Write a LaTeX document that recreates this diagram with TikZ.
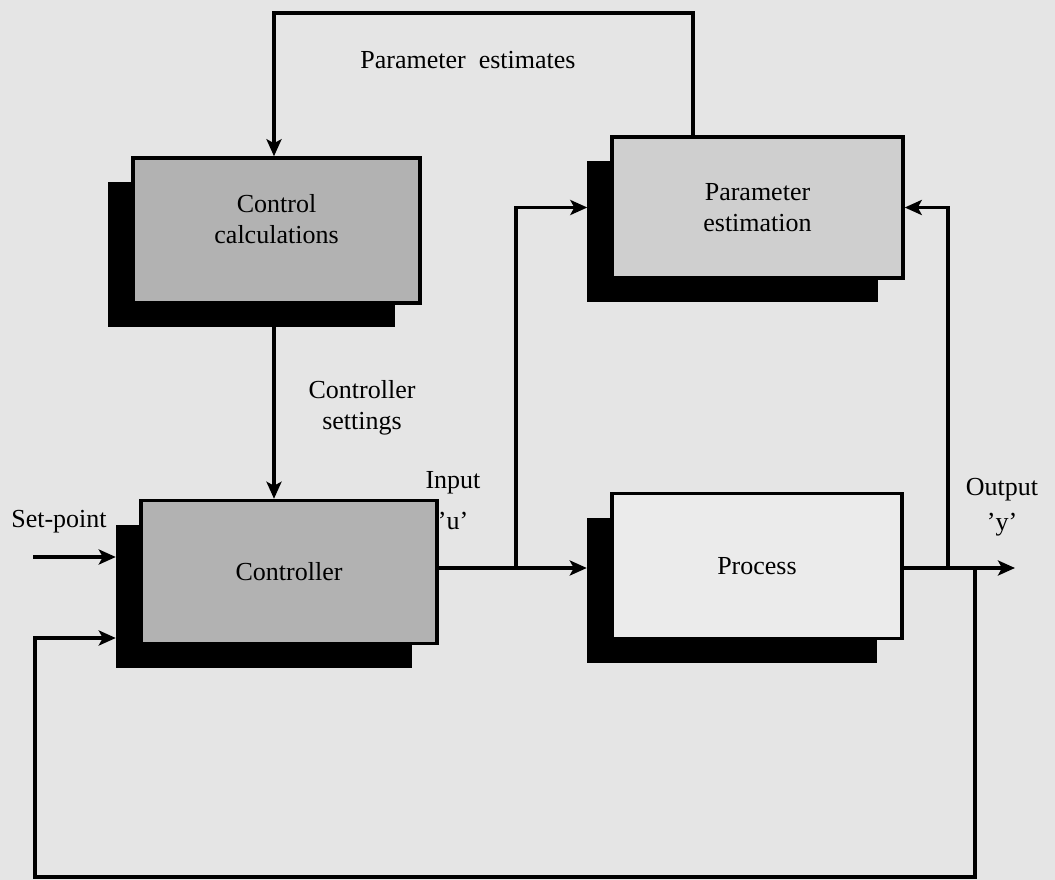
\documentclass[tikz,border=0pt]{standalone}
\usepackage{fontspec}
\setmainfont{Liberation Serif}
\usetikzlibrary{arrows.meta,shadows}
\definecolor{bgcol}{gray}{0.90}
\definecolor{darkfill}{gray}{0.70}
\definecolor{midfill}{gray}{0.81}
\definecolor{lightfill}{gray}{0.92}
\begin{document}
\begin{tikzpicture}[x=1pt,y=-1pt,
  lbl/.style={font=\fontsize{26}{31}\selectfont, align=center, inner sep=0pt},
  block/.style={draw=black, line width=3.5pt, lbl, drop shadow={shadow xshift=-25pt, shadow yshift=-24pt, fill=black, opacity=1}},
  shadowbox/.style={draw=none, fill=none, inner sep=0pt},
  flow/.style={line width=3.5pt, -{Stealth[length=17pt,width=15pt,inset=4pt]}},
  wire/.style={line width=3.5pt}]
  % canvas
  \fill[bgcol] (0,0) rectangle (1055,880);
  \useasboundingbox (0,0) rectangle (1055,880);

  % blocks (the trailing empty line lifts the two text lines a little)
  \node[block, fill=darkfill, minimum width=287pt, minimum height=145pt] (cc) at (276.5,230.5)
    {Control\\calculations\\[-7pt]\mbox{}};
  \node[block, fill=midfill, minimum width=291pt, minimum height=141pt] (pe) at (757.5,207.5) {Parameter\\estimation};
  \node[block, fill=darkfill, minimum width=296pt, minimum height=143pt] (ctrl) at (289,572) {Controller};
  \node[block, fill=lightfill, minimum width=290pt, minimum height=145pt] (proc) at (757,566) {Process};

  % left edges of the black shadows, used as arrow targets
  \node[shadowbox, minimum width=296pt, minimum height=143pt] (ctrlsh) at (264,596) {};
  \node[shadowbox, minimum width=290pt, minimum height=145pt] (procsh) at (732,590) {};
  \node[shadowbox, minimum width=291pt, minimum height=141pt] (pesh) at (733,231.5) {};

  % routing points
  \coordinate (tr) at (693,13);
  \coordinate (tl) at (274,13);
  \coordinate (u) at (516,568);
  \coordinate (yb) at (948,568);
  \coordinate (fb) at (975,568);
  \coordinate (yend) at (1015,568);
  \coordinate (sp) at (33,557);
  \coordinate (fbB) at (35,877);
  \coordinate (fbL) at (35,638);

  % parameter estimates back to control calculations
  \draw[flow] (pe.north -| tr) -- (tr) -- (tl) -- (tl |- cc.north);
  % controller settings
  \draw[flow] (tl |- cc.south) -- (tl |- ctrl.north);
  % set-point
  \draw[flow] (sp) -- (sp -| ctrlsh.west);
  % input u
  \draw[wire] (ctrl.east |- u) -- (u);
  \draw[flow] (u) -- (u -| procsh.west);
  \draw[flow] (u) |- (pe.west -| pesh.west);
  % output y
  \draw[flow] (proc.east |- yb) -- (yend);
  \draw[flow] (yb) |- (pe.east);
  % feedback
  \draw[flow] (fb) -- (fb |- fbB) -| (fbL) -- (fbL -| ctrlsh.west);

  % labels
  \node[lbl] (lpe) at (468,60) {Parameter\ \ estimates};
  \node[lbl] (lcs) at (362,408) {Controller\\settings};
  \node[lbl] (lsp) at (59,522) {Set-point};
  \node[lbl] (lin) at (453,501) {Input\\[10pt]'u'};
  \node[lbl] (lout) at (1002,507) {Output\\[4pt]'y'};
\end{tikzpicture}
\end{document}
